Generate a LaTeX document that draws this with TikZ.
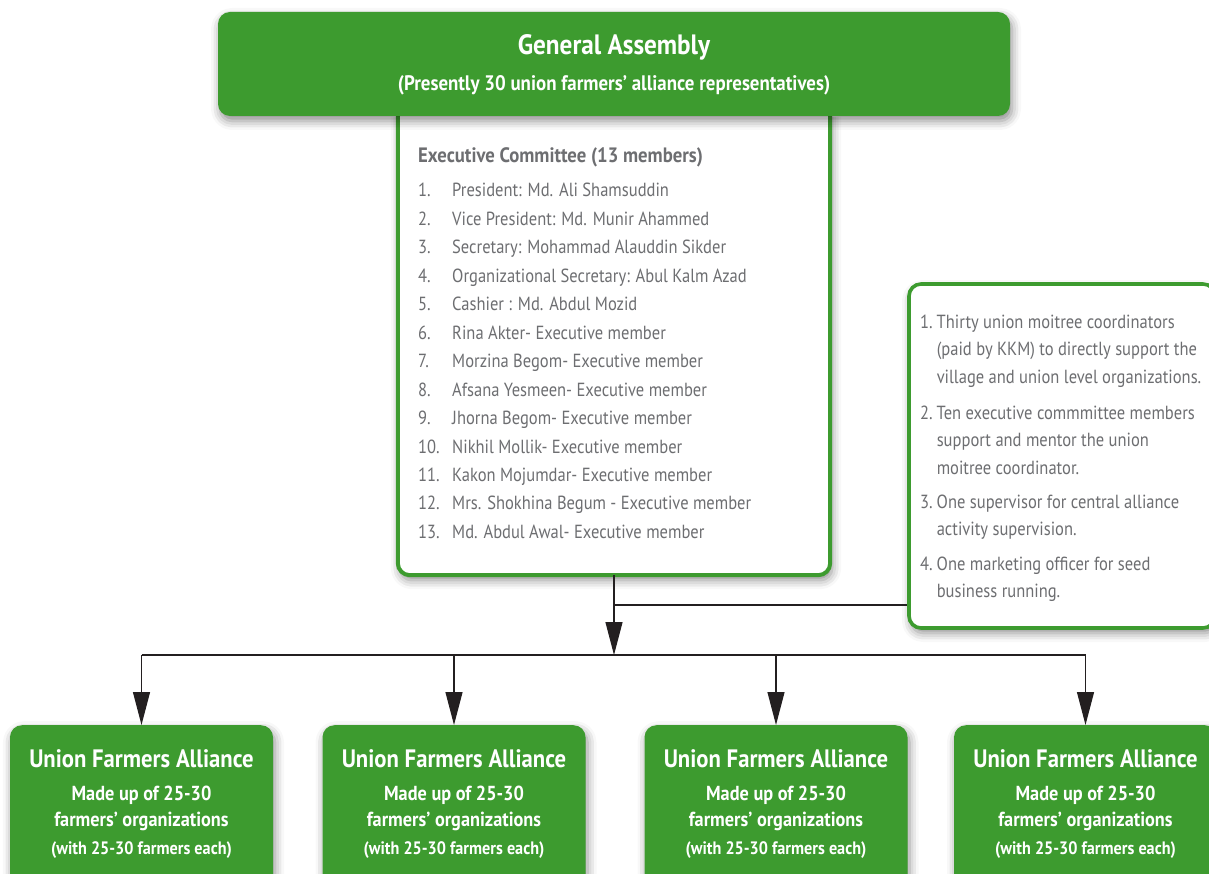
\documentclass[tikz,border=0pt]{standalone}
\usepackage{fontspec}
\setmainfont{PT Sans}[FakeStretch=0.87,BoldFeatures={FakeStretch=0.9}]
\usetikzlibrary{arrows.meta,shadows.blur,calc}
\definecolor{leaf}{HTML}{3D9B2F}
\definecolor{ink}{HTML}{6D6E71}
\definecolor{wire}{HTML}{231F20}
\begin{document}
\begin{tikzpicture}[x=1pt,y=-1pt,
  softshadow/.style={blur shadow={shadow xshift=2pt,shadow yshift=-5pt,shadow blur radius=9pt,shadow opacity=45}},
  greenbox/.style={fill=leaf,rounded corners=12pt,inner sep=0pt,softshadow},
  outlinebox/.style={fill=white,draw=leaf,line width=3.6pt,rounded corners=12pt,inner sep=0pt,softshadow},
  frame/.style={inner sep=0pt},
  txt/.style={inner sep=0pt,anchor=base west,text=ink},
  wtxt/.style={inner sep=0pt,anchor=base,text=white,font=\bfseries},
  link/.style={draw=wire,line width=1.2pt},
  tip/.style={link,-{Triangle[length=33pt,width=17pt]}}
]
\useasboundingbox (0,0) rectangle (1209,874);
\clip (0,0) rectangle (1209,874);

% executive committee panel (top edge tucked under the assembly box)
\node[frame,minimum width=432pt,minimum height=463pt] (ex) at (614,343.5) {};
\path[fill=white,draw=leaf,line width=4pt,rounded corners=12pt,softshadow]
  (ex.north west) -- (ex.south west) -- (ex.south east) -- (ex.north east);

% general assembly
\node[greenbox,minimum width=792pt,minimum height=104pt] (ga) at (614,64) {};
\node[wtxt,font=\fontsize{28}{28}\selectfont\bfseries] (gat) at (614,55) {General Assembly};
\node[wtxt,font=\fontsize{21}{21}\selectfont\bfseries] (gas) at (614,91) {(Presently 30 union farmers’ alliance representatives)};

% executive committee list
\node[txt,font=\fontsize{20.8}{20.8}\selectfont\bfseries] (exh) at (418,163) {Executive Committee (13 members)};
\foreach \t [count=\i] in {
  President: Md. Ali Shamsuddin,
  Vice President: Md. Munir Ahammed,
  Secretary: Mohammad Alauddin Sikder,
  Organizational Secretary: Abul Kalm Azad,
  Cashier : Md. Abdul Mozid,
  Rina Akter- Executive member,
  Morzina Begom- Executive member,
  Afsana Yesmeen- Executive member,
  Jhorna Begom- Executive member,
  Nikhil Mollik- Executive member,
  Kakon Mojumdar- Executive member,
  Mrs. Shokhina Begum - Executive member,
  Md. Abdul Awal- Executive member}{
  \pgfmathsetmacro{\yb}{197+(\i-1)*28.45}
  \node[txt,font=\fontsize{19}{19}\selectfont] (en\i) at (418,\yb) {\i.};
  \node[txt,font=\fontsize{19}{19}\selectfont] (et\i) at (452,\yb) {\t};
}

% support staff panel
\node[outlinebox,minimum width=306pt,minimum height=344pt] (sup) at (1062,456) {};
\begin{scope}[every node/.style={txt,font=\fontsize{19}{27.3}\selectfont}]
\node (s1) at (920,328.5) {\begin{tabular}[t]{@{}l@{\hspace{4pt}}l@{}}1.&Thirty union moitree coordinators\\&(paid by KKM) to directly support the\\&village and union level organizations.\end{tabular}};
\node (s2) at (920,419.5) {\begin{tabular}[t]{@{}l@{\hspace{4pt}}l@{}}2.&Ten executive commmittee members\\&support and mentor the union\\&moitree coordinator.\end{tabular}};
\node (s3) at (920,508.5) {\begin{tabular}[t]{@{}l@{\hspace{4pt}}l@{}}3.&One supervisor for central alliance\\&activity supervision.\end{tabular}};
\node (s4) at (920,570.5) {\begin{tabular}[t]{@{}l@{\hspace{4pt}}l@{}}4.&One marketing officer for seed\\&business running.\end{tabular}};
\end{scope}

% union farmers alliances
\foreach \cx [count=\i] in {141.5,454,776,1085.5}{
  \node[greenbox,minimum width=263pt,minimum height=170pt,anchor=north] (u\i) at (\cx,725) {};
  \node[wtxt,font=\fontsize{25.2}{25.2}\selectfont\bfseries] (ua\i) at ($(u\i.north)+(0,42)$) {Union Farmers Alliance};
  \node[wtxt,font=\fontsize{20.3}{20.3}\selectfont\bfseries] (ub\i) at ($(u\i.north)+(0,75)$) {Made up of 25-30};
  \node[wtxt,font=\fontsize{20.3}{20.3}\selectfont\bfseries] (uc\i) at ($(u\i.north)+(0,101)$) {farmers’ organizations};
  \node[wtxt,font=\fontsize{18}{18}\selectfont\bfseries] (ud\i) at ($(u\i.north)+(0,129.5)$) {(with 25-30 farmers each)};
}

% connectors
\coordinate (hub) at (ex.south |- 0,655);
\coordinate (tee) at (ex.south |- 0,605);
\draw[tip] (ex.south) -- (hub);
\draw[link] (tee) -- (tee -| sup.west);
\draw[link] (u1.north |- hub) -- (u4.north |- hub);
\foreach \i in {1,...,4}{
  \draw[tip] (u\i.north |- hub) -- (u\i.north);
}
\end{tikzpicture}
\end{document}
